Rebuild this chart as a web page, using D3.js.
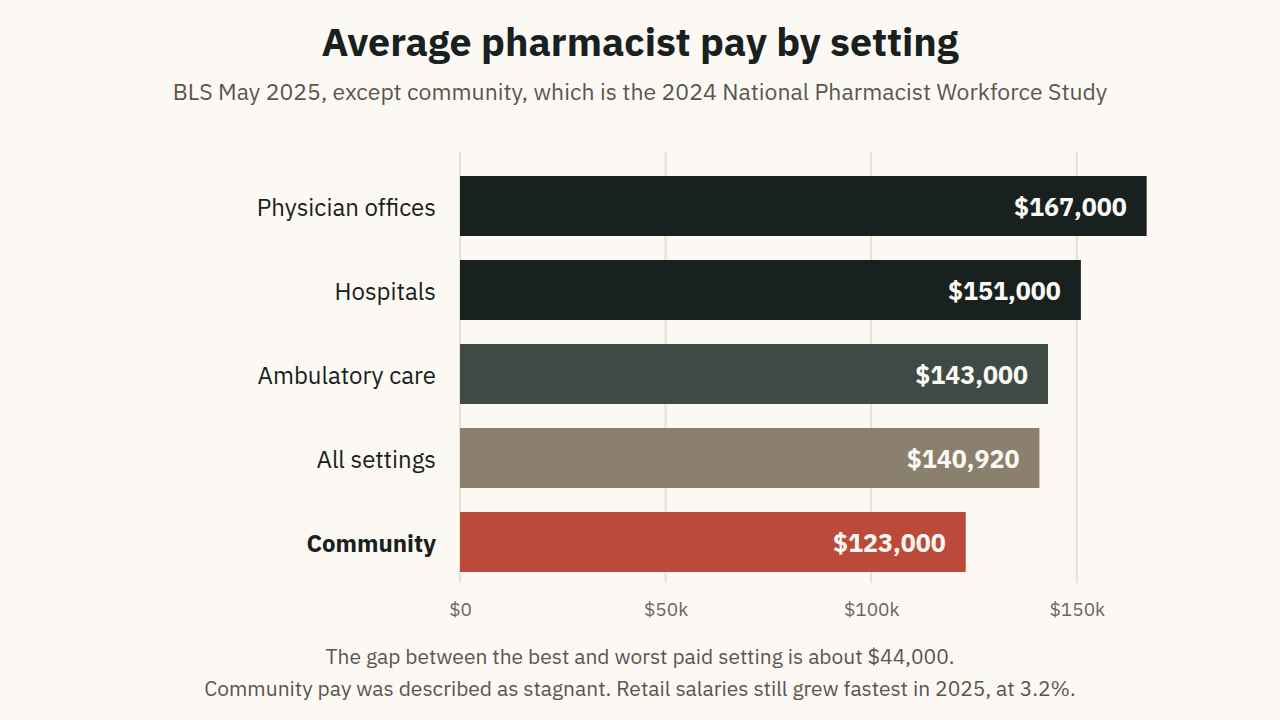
<!DOCTYPE html>
<html>
<head>
<meta charset="utf-8">
<script src="https://cdn.jsdelivr.net/npm/d3@7"></script>
<style>
  html, body { margin: 0; padding: 0; background: #fcf9f4; }
  svg { display: block; font-family: "IBM Plex Sans", Roboto, "Noto Sans", sans-serif; }
</style>
</head>
<body>
<svg id="chart" width="1280" height="720"></svg>
<script>
const categories = ["Physician offices", "Hospitals", "Ambulatory care", "All settings", "Community"];
const values = [167000, 151000, 143000, 140920, 123000];
const barColors = ["#182120", "#182120", "#3f4a46", "#8b7f6e", "#bb4a3a"];
const tickValues = [0, 50000, 100000, 150000];
const tickLabels = ["$0", "$50k", "$100k", "$150k"];
const titleText = "Average pharmacist pay by setting";
const subtitleText = "BLS May 2025, except community, which is the 2024 National Pharmacist Workforce Study";
const notes = [
  "The gap between the best and worst paid setting is about $44,000.",
  "Community pay was described as stagnant. Retail salaries still grew fastest in 2025, at 3.2%."
];

const FONT = '"IBM Plex Sans", Roboto, "Noto Sans", sans-serif';
const svg = d3.select("#chart");
const W = 1280;

const x = d3.scaleLinear().domain([0, 170000]).range([460, 1159]);
const y = d3.scaleBand().domain(categories).range([164, 584]).paddingInner(0.2857).paddingOuter(0.1428);

// title
svg.append("text").attr("x", W / 2).attr("y", 56).attr("text-anchor", "middle")
  .attr("font-size", 39.4).attr("font-weight", 700).attr("fill", "#182120").text(titleText);
svg.append("text").attr("x", W / 2).attr("y", 100).attr("text-anchor", "middle")
  .attr("font-size", 23).attr("fill", "#5a5550").text(subtitleText);

// gridlines
svg.append("g").selectAll("line").data(tickValues).join("line")
  .attr("x1", d => x(d)).attr("x2", d => x(d))
  .attr("y1", 152).attr("y2", 583)
  .attr("stroke", "#e8e0d4").attr("stroke-width", 2);

// axis
const axis = d3.axisBottom(x).tickValues(tickValues)
  .tickFormat((d, i) => tickLabels[i]).tickSize(0).tickPadding(0);
const gAxis = svg.append("g").attr("transform", "translate(0,616)").call(axis);
gAxis.attr("font-family", FONT).attr("font-size", 19);
gAxis.select(".domain").remove();
gAxis.selectAll("text").attr("fill", "#6b6660").attr("dy", 0);

// bars
svg.append("g").selectAll("rect").data(categories).join("rect")
  .attr("x", x(0)).attr("y", d => y(d))
  .attr("width", (d, i) => x(values[i]) - x(0))
  .attr("height", y.bandwidth())
  .attr("fill", (d, i) => barColors[i]);

// category labels
svg.append("g").selectAll("text").data(categories).join("text")
  .attr("x", x(0) - 24).attr("y", d => y(d) + y.bandwidth() / 2 + 2)
  .attr("dy", "0.35em").attr("text-anchor", "end")
  .attr("font-size", 24)
  .attr("font-weight", (d, i) => i === categories.length - 1 ? 700 : 400)
  .attr("fill", "#182120").text(d => d);

// value labels
const fmt = d3.format("$,");
svg.append("g").selectAll("text").data(categories).join("text")
  .attr("x", (d, i) => x(values[i]) - 20).attr("y", d => y(d) + y.bandwidth() / 2 + 1)
  .attr("dy", "0.35em").attr("text-anchor", "end")
  .attr("font-size", 25).attr("font-weight", 700)
  .attr("fill", "#fcf9f4").text((d, i) => fmt(values[i]));

// notes
notes.forEach((t, i) => {
  svg.append("text").attr("x", W / 2).attr("y", 664 + i * 32).attr("text-anchor", "middle")
    .attr("font-size", 21).attr("fill", "#5a5550").text(t);
});
</script>
</body>
</html>
